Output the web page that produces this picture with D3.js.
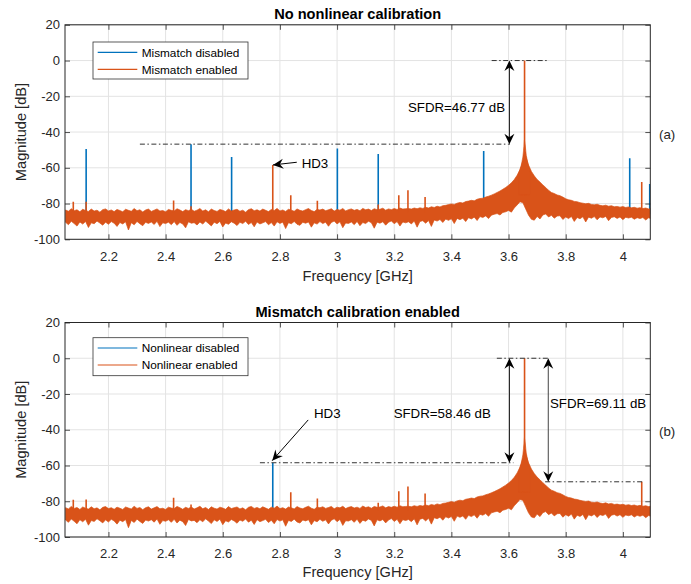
<!DOCTYPE html>
<html><head><meta charset="utf-8">
<script src="https://cdn.jsdelivr.net/npm/d3@7"></script>
<style>
body{margin:0;background:#fff}
svg{display:block}
text{font-family:"Liberation Sans",Arial,Helvetica,sans-serif;fill:#262626}
</style>
</head><body>
<svg id="chart" width="691" height="584"></svg>
<script>
// ---------------- DATA ----------------
const xTicks = [2.2, 2.4, 2.6, 2.8, 3.0, 3.2, 3.4, 3.6, 3.8, 4.0];
const yTicks = [20, 0, -20, -40, -60, -80, -100];
const xDomain = [2.048, 4.096];
const yDomain = [-100, 20];

// Noise floor envelope of the "enabled" trace, read every 0.01 GHz from 2.05 GHz
const noiseStart = 2.05, noiseStep = 0.01;
const noiseHigh = [
-83.6,-84.3,-82.9,-84.0,-83.5,-84.6,-83.2,-83.9,-84.4,-83.1,
-84.2,-83.7,-84.8,-83.4,-83.0,-84.1,-83.6,-84.5,-83.3,-83.9,
-84.6,-83.2,-83.8,-84.3,-82.8,-84.0,-83.5,-84.7,-83.6,-83.1,
-84.4,-83.7,-83.0,-84.2,-83.9,-84.6,-83.3,-83.8,-84.1,-82.9,
-83.6,-84.5,-83.4,-84.0,-83.2,-84.3,-83.7,-82.8,-84.2,-83.5,
-84.6,-83.1,-83.9,-84.4,-83.3,-83.8,-84.5,-83.0,-84.1,-83.6,
-83.2,-84.3,-83.7,-84.8,-83.4,-82.9,-84.0,-83.5,-84.2,-83.1,
-83.8,-84.5,-83.3,-83.9,-82.7,-84.1,-83.6,-84.4,-83.2,-83.7,
-84.3,-83.0,-83.8,-84.2,-83.4,-82.8,-83.9,-84.5,-83.3,-83.6,
-83.1,-84.0,-83.5,-82.9,-84.2,-83.3,-83.7,-82.8,-84.1,-83.4,
-83.0,-83.8,-83.3,-84.0,-82.7,-83.5,-83.1,-83.9,-82.9,-83.4,
-83.2,-82.6,-83.7,-83.0,-83.4,-82.8,-83.3,-82.5,-83.1,-82.9,
-82.8,-83.1,-82.5,-82.9,-82.4,-82.7,-82.1,-82.5,-81.8,-82.2,
-81.5,-81.9,-81.2,-81.0,-80.6,-80.2,-80.5,-79.8,-79.4,-79.7,
-78.9,-78.6,-78.2,-78.5,-77.6,-77.2,-77.0,-76.4,-75.9,-75.3,
-74.6,-73.8,-73.0,-72.0,-71.0,-69.8,-68.4,-66.6,-64.2,-61.0,
-56.5,-53.5,-58.5,-62.0,-64.5,-66.5,-68.0,-69.6,-71.0,-72.6,
-73.8,-74.4,-75.2,-75.6,-76.4,-77.3,-77.9,-78.2,-78.8,-79.0,
-79.5,-79.8,-80.1,-79.9,-80.5,-80.7,-80.4,-81.0,-81.3,-80.9,
-81.5,-81.2,-81.8,-81.6,-82.0,-81.7,-82.2,-81.9,-82.4,-82.1,
-82.6,-82.3,-82.8,-82.5,-83.0,-82.7,-83.0
];
const noiseLow = [
-90.5,-91.8,-89.9,-91.2,-92.6,-90.3,-91.5,-90.0,-93.4,-90.8,
-91.3,-89.8,-90.9,-92.1,-90.4,-91.6,-90.1,-91.0,-92.8,-90.6,
-91.4,-90.2,-94.8,-90.7,-91.9,-90.0,-91.3,-92.4,-90.5,-91.1,
-90.3,-91.7,-89.9,-92.9,-90.8,-91.2,-90.4,-91.8,-90.1,-92.2,
-90.6,-91.4,-93.6,-90.2,-91.0,-90.7,-92.0,-90.3,-91.5,-89.8,
-91.1,-92.5,-90.4,-91.3,-90.0,-93.1,-90.9,-91.6,-90.2,-91.0,
-92.3,-90.5,-91.2,-89.9,-91.7,-90.6,-93.0,-90.3,-91.4,-90.8,
-90.1,-91.9,-90.6,-92.6,-90.2,-91.1,-90.4,-94.0,-90.7,-91.3,
-90.0,-91.6,-92.2,-90.5,-91.0,-90.3,-93.2,-90.8,-91.5,-90.1,
-91.2,-90.4,-92.7,-90.6,-89.8,-91.4,-90.2,-93.5,-90.9,-91.1,
-90.3,-91.8,-90.0,-92.4,-90.6,-91.2,-89.9,-90.7,-93.8,-90.4,
-91.0,-90.2,-92.1,-90.5,-89.7,-91.3,-90.1,-92.6,-90.3,-90.8,
-90.2,-91.4,-89.8,-93.2,-90.0,-89.6,-91.0,-89.5,-92.8,-89.2,
-89.8,-88.9,-90.6,-88.7,-89.4,-88.5,-91.2,-88.3,-89.0,-88.2,
-90.1,-87.9,-88.6,-87.6,-89.5,-87.3,-87.8,-86.9,-88.4,-86.5,
-86.0,-85.6,-86.4,-85.0,-84.6,-83.9,-84.8,-82.5,-80.8,-79.0,
-79.5,-83.0,-86.5,-88.8,-89.3,-87.2,-88.6,-86.4,-85.8,-87.5,
-86.6,-88.2,-87.0,-86.8,-88.9,-87.5,-88.4,-87.2,-90.0,-87.8,
-88.5,-87.4,-90.3,-87.6,-88.2,-87.3,-89.1,-87.5,-88.0,-87.2,
-89.6,-87.8,-87.4,-88.3,-87.5,-89.0,-87.7,-88.1,-87.6,-88.8,
-87.9,-88.4,-87.8,-89.2,-88.0,-88.5,-88.3
];

// Carrier skirt near the tone, and the tone itself
const skirtF  = [3.636, 3.644, 3.650, 3.654, 3.6555, 3.658, 3.662, 3.668, 3.675];
const skirtDb = [-63, -59, -54, -48, -44.5, -47, -53, -58, -62];
const toneF = 3.656, toneDb = 0;

// Panel (a): spurs
const aBlueF   = [2.122, 2.489, 2.631, 3.001, 3.144, 3.513, 4.024, 4.094];
const aBlueDb  = [-49.5, -46.77, -54.0, -49.2, -52.3, -50.6, -54.7, -69.0];
const aOrangeF  = [2.077, 2.122, 2.428, 2.489, 2.775, 2.838, 2.931, 3.144, 3.216, 3.248, 3.308, 4.066];
const aOrangeDb = [-79.0, -79.0, -78.3, -81.5, -58.4, -75.4, -78.5, -80.5, -75.3, -72.5, -76.3, -68.0];

// Panel (b): spurs
const bBlueF   = [2.775];
const bBlueDb  = [-58.46];
const bOrangeF  = [2.077, 2.122, 2.428, 2.489, 2.838, 2.931, 3.144, 3.216, 3.248, 3.308, 4.066];
const bOrangeDb = [-79.2, -79.0, -78.0, -81.8, -74.9, -78.5, -80.8, -74.4, -71.8, -75.7, -69.11];

const titles = ["No nonlinear calibration", "Mismatch calibration enabled"];
const legendA = ["Mismatch disabled", "Mismatch enabled"];
const legendB = ["Nonlinear disabled", "Nonlinear enabled"];
const panelTags = ["(a)", "(b)"];

// ---------------- LAYOUT ----------------
const BLUE = "#0072BD", ORANGE = "#D95319", AX = "#262626";
const L = 65, R = 650.3;
const svg = d3.select("#chart");
const x = d3.scaleLinear().domain(xDomain).range([L, R]);

const panels = [
  { top: 24.8, bottom: 239.3, title: titles[0], titleY: 19.3, legend: legendA, legendBox: [93, 42, 155, 37],
    blueF: aBlueF, blueDb: aBlueDb, orangeF: aOrangeF, orangeDb: aOrangeDb, tag: panelTags[0],
    xLabelY: 280.5,
    dashes: [{x1: 2.310, x2: 3.605, y: -46.77}, {x1: 3.541, x2: 3.734, y: 0}],
    dbl: [{x: 3.603, y1: 0, y2: -46.77, color: "#111"}],
    arrows: [{x1: 2.859, y1: -56.9, x2: 2.7755, y2: -58.4}],
    texts: [{x: 3.588, y: -26.2, t: "SFDR=46.77 dB", a: "end"}, {x: 2.876, y: -57.5, t: "HD3", a: "start"}]
  },
  { top: 322.5, bottom: 537.0, title: titles[1], titleY: 317.2, legend: legendB, legendBox: [93, 337.7, 155, 38],
    blueF: bBlueF, blueDb: bBlueDb, orangeF: bOrangeF, orangeDb: bOrangeDb, tag: panelTags[1],
    xLabelY: 577,
    dashes: [{x1: 2.730, x2: 3.617, y: -58.46}, {x1: 3.559, x2: 3.739, y: 0}, {x1: 3.728, x2: 4.070, y: -69.11}],
    dbl: [{x: 3.603, y1: 0, y2: -58.46, color: "#111"}, {x: 3.739, y1: 0, y2: -69.11, color: "#444"}],
    arrows: [{x1: 2.899, y1: -34.5, x2: 2.773, y2: -57.3}],
    texts: [{x: 3.538, y: -30.8, t: "SFDR=58.46 dB", a: "end"}, {x: 3.745, y: -25.2, t: "SFDR=69.11 dB", a: "start"},
            {x: 2.919, y: -30.8, t: "HD3", a: "start"}]
  }
];

function head(g, tx, ty, fx, fy, color) {
  // filled notched arrowhead with tip at (tx,ty), pointing away from (fx,fy)
  const ang = Math.atan2(ty - fy, tx - fx);
  const Lh = 10.5, W = 5, N = 3.5;
  const pts = [[0, 0], [-Lh, -W], [-Lh + N, 0], [-Lh, W]].map(([px, py]) => [
    tx + px * Math.cos(ang) - py * Math.sin(ang),
    ty + px * Math.sin(ang) + py * Math.cos(ang)]);
  g.append("path").attr("d", "M" + pts.map(p => p.join(",")).join("L") + "Z").attr("fill", color || "#000");
}

panels.forEach((p, pi) => {
  const y = d3.scaleLinear().domain(yDomain).range([p.bottom, p.top]);
  const g = svg.append("g");
  const clipId = "clip" + pi;
  svg.append("clipPath").attr("id", clipId).append("rect")
    .attr("x", L).attr("y", p.top).attr("width", R - L).attr("height", p.bottom - p.top);

  // grid
  const grid = g.append("g").attr("stroke", "#e3e3e3").attr("stroke-width", 1);
  xTicks.forEach(t => grid.append("line").attr("x1", x(t)).attr("x2", x(t)).attr("y1", p.top).attr("y2", p.bottom));
  yTicks.forEach(t => grid.append("line").attr("x1", L).attr("x2", R).attr("y1", y(t)).attr("y2", y(t)));

  const data = g.append("g").attr("clip-path", `url(#${clipId})`);
  // blue spurs
  p.blueF.forEach((f, i) => data.append("line").attr("x1", x(f)).attr("x2", x(f))
    .attr("y1", y(-86)).attr("y2", y(p.blueDb[i])).attr("stroke", BLUE).attr("stroke-width", 1.6));
  // orange noise band
  const nf = noiseHigh.map((v, i) => ({f: noiseStart + i * noiseStep, hi: v, lo: noiseLow[i]}));
  data.append("path").datum(nf)
    .attr("d", d3.area().x(d => x(d.f)).y0(d => y(d.lo)).y1(d => y(d.hi)))
    .attr("fill", ORANGE).attr("stroke", ORANGE).attr("stroke-width", 0.7).attr("stroke-linejoin", "bevel");
  // carrier skirt
  data.append("path").datum(skirtF.map((f, i) => ({f, v: skirtDb[i]})))
    .attr("d", d3.area().x(d => x(d.f)).y0(y(-75)).y1(d => y(d.v)))
    .attr("fill", ORANGE).attr("stroke", ORANGE).attr("stroke-width", 0.6);
  data.append("line").attr("x1", x(toneF)).attr("x2", x(toneF)).attr("y1", y(-50)).attr("y2", y(toneDb))
    .attr("stroke", ORANGE).attr("stroke-width", 1.6);
  // orange spurs
  p.orangeF.forEach((f, i) => data.append("line").attr("x1", x(f)).attr("x2", x(f))
    .attr("y1", y(-85)).attr("y2", y(p.orangeDb[i])).attr("stroke", ORANGE).attr("stroke-width", 1.6));

  // axes
  const fmt = d => String(+d.toFixed(1));
  const axB = g.append("g").attr("transform", `translate(0,${p.bottom})`)
    .call(d3.axisBottom(x).tickValues(xTicks).tickSize(-5).tickSizeOuter(0).tickPadding(12).tickFormat(fmt));
  const axT = g.append("g").attr("transform", `translate(0,${p.top})`)
    .call(d3.axisTop(x).tickValues(xTicks).tickSize(-5).tickSizeOuter(0).tickFormat(""));
  const axL = g.append("g").attr("transform", `translate(${L},0)`)
    .call(d3.axisLeft(y).tickValues(yTicks).tickSize(-5).tickSizeOuter(0).tickPadding(5).tickFormat(d => String(d)));
  const axR = g.append("g").attr("transform", `translate(${R},0)`)
    .call(d3.axisRight(y).tickValues(yTicks).tickSize(-5).tickSizeOuter(0).tickFormat(""));
  [axB, axT, axL, axR].forEach(a => {
    a.select(".domain").remove();
    a.selectAll(".tick line").attr("stroke", AX).attr("stroke-width", 0.8);
    a.selectAll(".tick text").attr("fill", AX).style("font-size", "13px").attr("font-family", null);
  });
  g.append("rect").attr("x", L).attr("y", p.top).attr("width", R - L).attr("height", p.bottom - p.top)
    .attr("fill", "none").attr("stroke", AX).attr("stroke-width", 1);

  // labels
  g.append("text").attr("x", (L + R) / 2).attr("y", p.titleY).attr("text-anchor", "middle")
    .style("font-size", "14.6px").style("font-weight", "bold").style("fill", "#000").text(p.title);
  g.append("text").attr("x", (L + R) / 2).attr("y", p.xLabelY).attr("text-anchor", "middle")
    .style("font-size", "14.6px").text("Frequency [GHz]");
  g.append("text").attr("transform", `translate(25.5,${(p.top + p.bottom) / 2}) rotate(-90)`).attr("text-anchor", "middle")
    .style("font-size", "14.6px").text("Magnitude [dB]");
  g.append("text").attr("x", 659).attr("y", (p.top + p.bottom) / 2 + 6.5).style("font-size", "13.3px").text(p.tag);

  // annotations
  p.dashes.forEach(d => g.append("line").attr("x1", x(d.x1)).attr("x2", x(d.x2)).attr("y1", y(d.y)).attr("y2", y(d.y))
    .attr("stroke", "#333").attr("stroke-width", 1).attr("stroke-dasharray", "5,2.5,1.5,2.5"));
  p.dbl.forEach(d => {
    const X = x(d.x), Y1 = y(d.y1), Y2 = y(d.y2);
    g.append("line").attr("x1", X).attr("x2", X).attr("y1", Y1 + 3).attr("y2", Y2 - 3).attr("stroke", d.color).attr("stroke-width", 1);
    head(g, X, Y1, X, Y2, "#000");
    head(g, X, Y2, X, Y1, "#000");
  });
  p.arrows.forEach(d => {
    const X1 = x(d.x1), Y1 = y(d.y1), X2 = x(d.x2), Y2 = y(d.y2);
    g.append("line").attr("x1", X1).attr("y1", Y1).attr("x2", X2).attr("y2", Y2).attr("stroke", "#000").attr("stroke-width", 1);
    head(g, X2, Y2, X1, Y1, "#000");
  });
  p.texts.forEach(d => g.append("text").attr("x", x(d.x)).attr("y", y(d.y) + 4.7).attr("text-anchor", d.a)
    .style("font-size", "13.3px").style("fill", "#000").text(d.t));

  // legend
  const [lx, ly, lw, lh] = p.legendBox;
  const lg = g.append("g");
  lg.append("rect").attr("x", lx).attr("y", ly).attr("width", lw).attr("height", lh)
    .attr("fill", "#fff").attr("stroke", "#333").attr("stroke-width", 0.8);
  [BLUE, ORANGE].forEach((c, i) => {
    const yy = ly + 10.3 + i * 17;
    lg.append("line").attr("x1", lx + 4.7).attr("x2", lx + 44.3).attr("y1", yy).attr("y2", yy).attr("stroke", c).attr("stroke-width", 1.2);
    lg.append("text").attr("x", lx + 48.7).attr("y", yy + 4.2).style("font-size", "11.8px").style("fill", "#000").text(p.legend[i]);
  });
});
</script>
</body></html>
